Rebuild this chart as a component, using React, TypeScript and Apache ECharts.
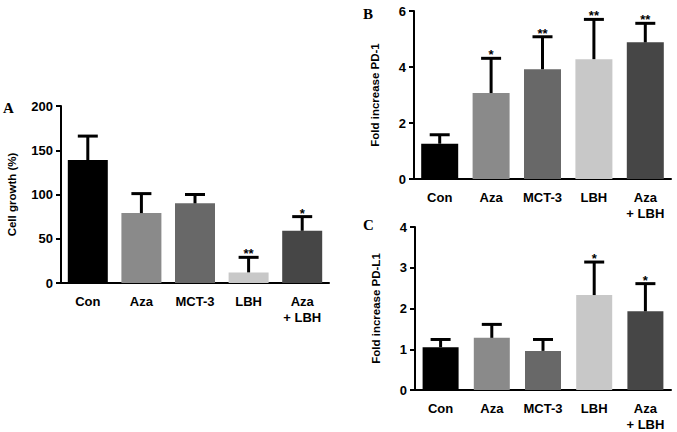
import React, { useEffect, useRef } from "react";
import * as echarts from "echarts";

const categories = ["Con", "Aza", "MCT-3", "LBH", "Aza\n+ LBH"];
const barColors = ["#000000", "#8a8a8a", "#686868", "#c8c8c8", "#464646"];

const growthMean = [139, 79, 90, 12, 59];
const growthSd = [27, 22, 10, 17, 16];
const growthStars = ["", "", "", "**", "*"];

const pd1Mean = [1.26, 3.07, 3.92, 4.28, 4.88];
const pd1Sd = [0.32, 1.24, 1.16, 1.42, 0.68];
const pd1Stars = ["", "*", "**", "**", "**"];

const pdl1Mean = [1.05, 1.28, 0.96, 2.33, 1.93];
const pdl1Sd = [0.19, 0.33, 0.28, 0.81, 0.68];
const pdl1Stars = ["", "", "", "*", "*"];

const SANS = "Liberation Sans";
const SERIF = "'Liberation Serif', 'Times New Roman', serif";

function errorSeries(gi: number, mean: number[], sd: number[], stars: string[]) {
  return {
    type: "custom",
    xAxisIndex: gi,
    yAxisIndex: gi,
    z: 5,
    data: mean.map((m, i) => [i, m, m + sd[i]]),
    renderItem: (params: any, api: any) => {
      const i = api.value(0);
      const base = api.coord([i, api.value(1)]);
      const top = api.coord([i, api.value(2)]);
      const x = base[0];
      const star = stars[params.dataIndex];
      const children: any[] = [
        {
          type: "line",
          shape: { x1: x, y1: base[1], x2: x, y2: top[1] },
          style: { stroke: "#000", lineWidth: 3 },
        },
        {
          type: "line",
          shape: { x1: x - 10, y1: top[1], x2: x + 10, y2: top[1] },
          style: { stroke: "#000", lineWidth: 3 },
        },
      ];
      if (star) {
        children.push({
          type: "text",
          style: {
            text: star,
            x: x,
            y: top[1] + 3,
            align: "center",
            verticalAlign: "bottom",
            font: `bold 13px '${SANS}'`,
            fill: "#000",
          },
        });
      }
      return { type: "group", children };
    },
  };
}

function barSeries(gi: number, mean: number[], width: number) {
  return {
    type: "bar",
    xAxisIndex: gi,
    yAxisIndex: gi,
    barWidth: width,
    data: mean.map((v, i) => ({ value: v, itemStyle: { color: barColors[i] } })),
  };
}

function xAxis(gi: number) {
  return {
    type: "category",
    gridIndex: gi,
    data: categories,
    axisLine: { lineStyle: { color: "#000", width: 2 } },
    axisTick: { alignWithLabel: true, length: 4, lineStyle: { color: "#000", width: 2 } },
    axisLabel: {
      color: "#000",
      fontFamily: SANS,
      fontWeight: 700,
      fontSize: 13,
      lineHeight: 16,
      margin: 10,
      interval: 0,
    },
  };
}

function yAxis(gi: number, name: string, max: number, interval: number, gap: number) {
  return {
    type: "value",
    gridIndex: gi,
    min: 0,
    max,
    interval,
    name,
    nameLocation: "middle",
    nameGap: gap,
    nameTextStyle: { color: "#000", fontFamily: SANS, fontWeight: 700, fontSize: 11.5 },
    splitLine: { show: false },
    axisLine: { show: true, lineStyle: { color: "#000", width: 2 } },
    axisTick: { show: true, length: 5, lineStyle: { color: "#000", width: 2 } },
    axisLabel: { color: "#000", fontFamily: SANS, fontWeight: 700, fontSize: 13, margin: 8 },
  };
}

export default function App() {
  const ref = useRef<HTMLDivElement>(null);
  useEffect(() => {
    if (!ref.current) return;
    const chart = echarts.init(ref.current, undefined, { renderer: "svg" });
    chart.setOption({
      animation: false,
      backgroundColor: "#ffffff",
      grid: [
        { left: 61, top: 106, width: 268, height: 177 },
        { left: 414, top: 11, width: 257, height: 168 },
        { left: 415, top: 227, width: 256, height: 168 },
      ],
      xAxis: [xAxis(0), xAxis(1), xAxis(2)],
      yAxis: [
        yAxis(0, "Cell growth (%)", 200, 50, 43),
        yAxis(1, "Fold increase PD-1", 6, 2, 33),
        yAxis(2, "Fold increase PD-L1", 4, 1, 33),
      ],
      series: [
        barSeries(0, growthMean, 40),
        barSeries(1, pd1Mean, 37),
        barSeries(2, pdl1Mean, 36),
        errorSeries(0, growthMean, growthSd, growthStars),
        errorSeries(1, pd1Mean, pd1Sd, pd1Stars),
        errorSeries(2, pdl1Mean, pdl1Sd, pdl1Stars),
      ],
      graphic: [
        { type: "text", left: 3, top: 100, style: { text: "A", font: `bold 15px ${SERIF}`, fill: "#000" } },
        { type: "text", left: 363, top: 6, style: { text: "B", font: `bold 15px ${SERIF}`, fill: "#000" } },
        { type: "text", left: 363, top: 217, style: { text: "C", font: `bold 15px ${SERIF}`, fill: "#000" } },
      ],
    });
    return () => chart.dispose();
  }, []);
  return (
    <div
      ref={ref}
      style={{ position: "fixed", left: 0, top: 0, width: 677, height: 432, background: "#fff" }}
    />
  );
}
